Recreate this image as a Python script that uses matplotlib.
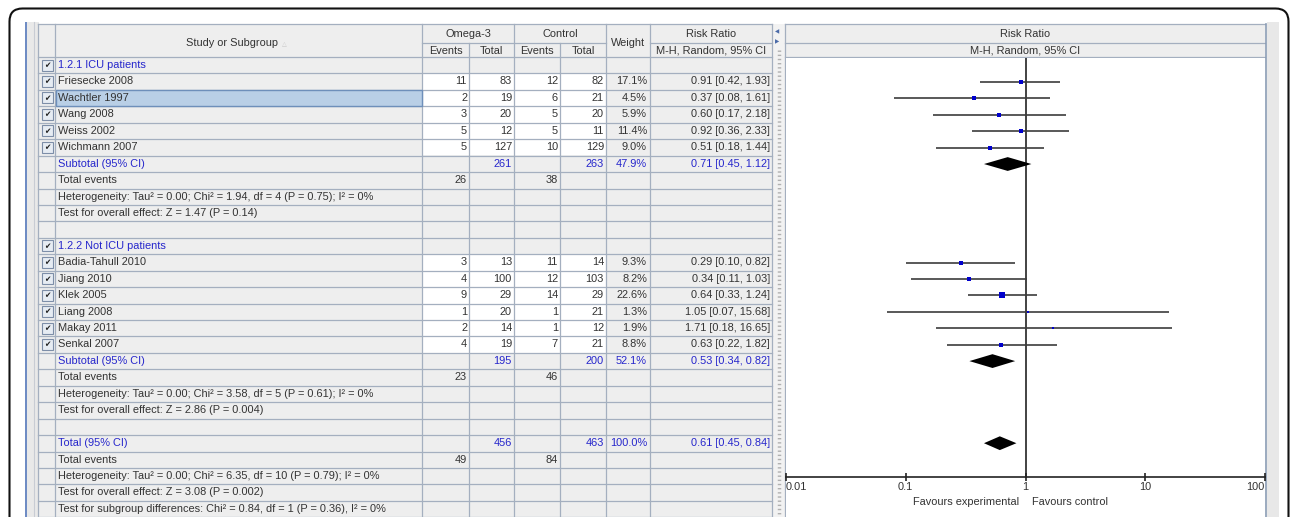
import matplotlib
matplotlib.use("Agg")
import matplotlib.pyplot as plt
from matplotlib.patches import Rectangle, FancyBboxPatch
from matplotlib.ticker import NullLocator

# ---------------- data ----------------
g1_label = "1.2.1 ICU patients"
g1_names = ["Friesecke 2008", "Wachtler 1997", "Wang 2008", "Weiss 2002", "Wichmann 2007"]
g1_exp_events = [11, 2, 3, 5, 5]
g1_exp_total = [83, 19, 20, 12, 127]
g1_ctl_events = [12, 6, 5, 5, 10]
g1_ctl_total = [82, 21, 20, 11, 129]
g1_weight = [17.1, 4.5, 5.9, 11.4, 9.0]
g1_rr = [0.91, 0.37, 0.60, 0.92, 0.51]
g1_lo = [0.42, 0.08, 0.17, 0.36, 0.18]
g1_hi = [1.93, 1.61, 2.18, 2.33, 1.44]
g1_sub = dict(exp_total=261, ctl_total=263, weight=47.9, rr=0.71, lo=0.45, hi=1.12,
              exp_events=26, ctl_events=38)
g1_het = "Heterogeneity: Tau\u00b2 = 0.00; Chi\u00b2 = 1.94, df = 4 (P = 0.75); I\u00b2 = 0%"
g1_test = "Test for overall effect: Z = 1.47 (P = 0.14)"

g2_label = "1.2.2 Not ICU patients"
g2_names = ["Badia-Tahull 2010", "Jiang 2010", "Klek 2005", "Liang 2008", "Makay 2011", "Senkal 2007"]
g2_exp_events = [3, 4, 9, 1, 2, 4]
g2_exp_total = [13, 100, 29, 20, 14, 19]
g2_ctl_events = [11, 12, 14, 1, 1, 7]
g2_ctl_total = [14, 103, 29, 21, 12, 21]
g2_weight = [9.3, 8.2, 22.6, 1.3, 1.9, 8.8]
g2_rr = [0.29, 0.34, 0.64, 1.05, 1.71, 0.63]
g2_lo = [0.10, 0.11, 0.33, 0.07, 0.18, 0.22]
g2_hi = [0.82, 1.03, 1.24, 15.68, 16.65, 1.82]
g2_sub = dict(exp_total=195, ctl_total=200, weight=52.1, rr=0.53, lo=0.34, hi=0.82,
              exp_events=23, ctl_events=46)
g2_het = "Heterogeneity: Tau\u00b2 = 0.00; Chi\u00b2 = 3.58, df = 5 (P = 0.61); I\u00b2 = 0%"
g2_test = "Test for overall effect: Z = 2.86 (P = 0.004)"

tot = dict(exp_total=456, ctl_total=463, weight=100.0, rr=0.61, lo=0.45, hi=0.84,
           exp_events=49, ctl_events=84)
tot_het = "Heterogeneity: Tau\u00b2 = 0.00; Chi\u00b2 = 6.35, df = 10 (P = 0.79); I\u00b2 = 0%"
tot_test = "Test for overall effect: Z = 3.08 (P = 0.002)"
tot_sub = "Test for subgroup differences: Chi\u00b2 = 0.84, df = 1 (P = 0.36), I\u00b2 = 0%"

x_ticks = [0.01, 0.1, 1, 10, 100]
x_tick_labels = ["0.01", "0.1", "1", "10", "100"]
fav_left = "Favours experimental"
fav_right = "Favours control"

# ---------------- build rows ----------------
rows = []
def add_group(label, names, ee, et, ce, ct, w, rr, lo, hi, sub, het, test):
    rows.append(dict(kind="group", text=label))
    for i in range(len(names)):
        rows.append(dict(kind="study", text=names[i], ee=ee[i], et=et[i], ce=ce[i], ct=ct[i],
                         w=w[i], rr=rr[i], lo=lo[i], hi=hi[i]))
    rows.append(dict(kind="sub", text="Subtotal (95% CI)", **{k: sub[k] for k in
                     ["exp_total", "ctl_total", "weight", "rr", "lo", "hi"]}))
    rows.append(dict(kind="events", text="Total events", ee=sub["exp_events"], ce=sub["ctl_events"]))
    rows.append(dict(kind="note", text=het))
    rows.append(dict(kind="note", text=test))
    rows.append(dict(kind="blank", text=""))

add_group(g1_label, g1_names, g1_exp_events, g1_exp_total, g1_ctl_events, g1_ctl_total,
          g1_weight, g1_rr, g1_lo, g1_hi, g1_sub, g1_het, g1_test)
add_group(g2_label, g2_names, g2_exp_events, g2_exp_total, g2_ctl_events, g2_ctl_total,
          g2_weight, g2_rr, g2_lo, g2_hi, g2_sub, g2_het, g2_test)
rows.append(dict(kind="sub", text="Total (95% CI)", **{k: tot[k] for k in
                 ["exp_total", "ctl_total", "weight", "rr", "lo", "hi"]}))
rows.append(dict(kind="events", text="Total events", ee=tot["exp_events"], ce=tot["ctl_events"]))
rows.append(dict(kind="note", text=tot_het))
rows.append(dict(kind="note", text=tot_test))
rows.append(dict(kind="note", text=tot_sub))

# ---------------- layout ----------------
W, H = 1292, 517
ROW0, RH = 65.0, 16.44
def ypix(r):
    return ROW0 + RH * r

FONT = "Liberation Sans"
FS = 7.95
TXT = "#333333"
BLUE = "#2626cc"
GRID = "#a4afbf"
BG = "#eeeeee"

plt.rcParams["font.family"] = [FONT, "DejaVu Sans"]

fig = plt.figure(figsize=(W / 100, H / 100), dpi=100)
ax = fig.add_axes([0, 0, 1, 1])
ax.set_xlim(0, W)
ax.set_ylim(H, 0)
ax.axis("off")

# outer rounded frame
ax.add_patch(FancyBboxPatch((9.5, 8.5), 1279, 600, boxstyle="round,pad=0,rounding_size=13",
                            fc="white", ec="#111111", lw=1.5, zorder=0))

# left decoration
ax.add_patch(Rectangle((24.5, 22), 2.2, H, fc="#6f8cc4", ec="none", zorder=1))
ax.add_patch(Rectangle((26.7, 22), 11.8, H, fc="#e9e9e9", ec="none", zorder=1))
ax.plot([33.5, 33.5], [22, H], color="#c8ccd4", lw=0.8, zorder=2)

cols = [38, 55, 422, 469, 514, 560, 606, 650, 772]
TOP, HMID, HBOT = 24, 42.5, 57

# table background
ax.add_patch(Rectangle((38, TOP), 772 - 38, H - TOP, fc=BG, ec="none", zorder=1))

# white cells for study rows
for r, row in enumerate(rows):
    if row["kind"] == "study":
        ax.add_patch(Rectangle((422, ypix(r) - RH / 2), 606 - 422, RH, fc="white", ec="none", zorder=1.5))

# selected row highlight (Wachtler 1997)
sel = [r for r, row in enumerate(rows) if row.get("text") == "Wachtler 1997"][0]
ax.add_patch(Rectangle((55.5, ypix(sel) - RH / 2 + 0.5), 422 - 56, RH - 1, fc="#b9cfe6",
                       ec="#6e8fba", lw=1.0, zorder=2.5))

# grid lines
y_lines = [TOP, HBOT] + [HBOT + RH * (i + 1) for i in range(len(rows))]
for yl in y_lines:
    if yl <= H + 1:
        ax.plot([38, 772], [yl, yl], color=GRID, lw=0.9, zorder=2)
ax.plot([422, 606], [HMID, HMID], color=GRID, lw=0.9, zorder=2)
ax.plot([650, 772], [HMID, HMID], color=GRID, lw=0.9, zorder=2)
for cx in cols:
    y0 = HMID if cx in (469, 560) else TOP
    ax.plot([cx, cx], [y0, H], color=GRID, lw=0.9, zorder=2)

# header text
ax.text(232, 43, "Study or Subgroup", ha="center", va="center", fontsize=FS, color=TXT, zorder=3)
ax.text(284, 44, "\u25b3", ha="center", va="center", fontsize=4.5, color="#c8c8c8",
        family="DejaVu Sans", zorder=3)
ax.text(468, 34, "Omega-3", ha="center", va="center", fontsize=FS, color=TXT, zorder=3)
ax.text(560, 34, "Control", ha="center", va="center", fontsize=FS, color=TXT, zorder=3)
for xc, t in [(445.5, "Events"), (491.5, "Total"), (537, "Events"), (583, "Total")]:
    ax.text(xc, 50.5, t, ha="center", va="center", fontsize=FS, color=TXT, zorder=3)
ax.text(628, 43, "Weight", ha="center", va="center", fontsize=FS, color=TXT, zorder=3)
ax.text(711, 34, "Risk Ratio", ha="center", va="center", fontsize=FS, color=TXT, zorder=3)
ax.text(711, 50.5, "M-H, Random, 95% CI", ha="center", va="center", fontsize=FS, color=TXT, zorder=3)

# table body
for r, row in enumerate(rows):
    y = ypix(r)
    k = row["kind"]
    col = BLUE if k in ("group", "sub") else TXT
    ax.text(57.5, y, row["text"], ha="left", va="center", fontsize=FS, color=col, zorder=3)
    if k in ("group", "study"):
        ax.add_patch(Rectangle((41.5, y - 5.5), 11, 11, fc="#e6ecf3", ec="#7d8ea8", lw=0.8, zorder=3))
        ax.text(47, y + 0.3, "\u2714", ha="center", va="center", fontsize=5.5, color="#222222",
                family="DejaVu Sans", zorder=4)
    if k == "study":
        vals = [(467, str(row["ee"])), (512, str(row["et"])), (558, str(row["ce"])),
                (604, str(row["ct"])), (647, f"{row['w']:.1f}%"),
                (770, f"{row['rr']:.2f} [{row['lo']:.2f}, {row['hi']:.2f}]")]
        for xr, t in vals:
            ax.text(xr, y, t, ha="right", va="center", fontsize=FS, color=TXT, zorder=3)
    elif k == "sub":
        vals = [(512, str(row["exp_total"])), (604, str(row["ctl_total"])),
                (647, f"{row['weight']:.1f}%"),
                (770, f"{row['rr']:.2f} [{row['lo']:.2f}, {row['hi']:.2f}]")]
        for xr, t in vals:
            ax.text(xr, y, t, ha="right", va="center", fontsize=FS, color=BLUE, zorder=3)
    elif k == "events":
        ax.text(467, y, str(row["ee"]), ha="right", va="center", fontsize=FS, color=TXT, zorder=3)
        ax.text(558, y, str(row["ce"]), ha="right", va="center", fontsize=FS, color=TXT, zorder=3)

# divider strip
ax.add_patch(Rectangle((773, TOP), 12, H - TOP, fc="#f2f2f2", ec="none", zorder=1))
ax.plot([779, 779], [TOP + 26, H], color="#b0b0b0", lw=2.5, ls=(0, (0.4, 0.8)), zorder=2)
ax.text(777, 31.5, "\u25c0", ha="center", va="center", fontsize=4, color="#4a6aa8",
        family="DejaVu Sans", zorder=3)
ax.text(777, 41.5, "\u25b6", ha="center", va="center", fontsize=4, color="#4a6aa8",
        family="DejaVu Sans", zorder=3)

# plot header
PL, PR = 785, 1265
ax.add_patch(Rectangle((PL, TOP), PR - PL, HBOT - TOP, fc=BG, ec="none", zorder=1))
for yl in (TOP, HMID, HBOT):
    ax.plot([PL, PR], [yl, yl], color=GRID, lw=0.9, zorder=2)
ax.plot([PL, PL], [TOP, H], color=GRID, lw=0.9, zorder=2)
ax.plot([PR + 0.5, PR + 0.5], [TOP, H], color="#8a9cb4", lw=1.2, zorder=2)
ax.add_patch(Rectangle((PR + 1.5, TOP - 2), 12, H, fc="#e8e8e8", ec="none", zorder=1))
ax.text((PL + PR) / 2, 34, "Risk Ratio", ha="center", va="center", fontsize=FS, color=TXT, zorder=3)
ax.text((PL + PR) / 2, 50.5, "M-H, Random, 95% CI", ha="center", va="center", fontsize=FS,
        color=TXT, zorder=3)

# ---------------- forest plot axes ----------------
r_top = (HBOT - ROW0) / RH
r_bot = (H - ROW0) / RH
fa = fig.add_axes([(PL + 1) / W, 0, (PR - PL - 1) / W, (H - HBOT - 0.5) / H])
fa.set_xscale("log")
fa.set_xlim(0.01, 100)
fa.set_ylim(r_bot, r_top)
fa.patch.set_facecolor("white")
for s in ("top", "left", "right"):
    fa.spines[s].set_visible(False)
r_axis = (476.7 - ROW0) / RH
fa.spines["bottom"].set_position(("data", r_axis))
fa.spines["bottom"].set_color("#222222")
fa.spines["bottom"].set_linewidth(1.2)
fa.set_xticks(x_ticks, labels=x_tick_labels)
fa.xaxis.set_minor_locator(NullLocator())
fa.tick_params(axis="x", direction="inout", length=6, width=1.2, color="#222222",
               labelsize=FS, labelcolor=TXT, pad=1)
fa.set_yticks([])
tl = fa.get_xticklabels()
tl[0].set_ha("left")
tl[-1].set_ha("right")

fa.plot([1, 1], [r_top, r_axis], color="#222222", lw=1.2, zorder=2)

for r, row in enumerate(rows):
    if row["kind"] == "study":
        fa.plot([row["lo"], row["hi"]], [r, r], color="#3c3c3c", lw=1.2, zorder=3,
                solid_capstyle="butt")
        fa.plot([row["rr"]], [r], marker="s", color="#0000cc", mew=0,
                markersize=(1 + 0.95 * row["w"] ** 0.5) * 0.72, zorder=4)
    elif row["kind"] == "sub":
        fa.fill([row["lo"], row["rr"], row["hi"], row["rr"]], [r, r - 0.42, r, r + 0.42],
                color="black", lw=0, zorder=4)

r_fav = (501.5 - ROW0) / RH
fa.annotate(fav_left, xy=(1, r_fav), xytext=(-6, 0), textcoords="offset pixels",
            ha="right", va="center", fontsize=FS, color=TXT)
fa.annotate(fav_right, xy=(1, r_fav), xytext=(6, 0), textcoords="offset pixels",
            ha="left", va="center", fontsize=FS, color=TXT)

fig.savefig("out.png", dpi=100)
